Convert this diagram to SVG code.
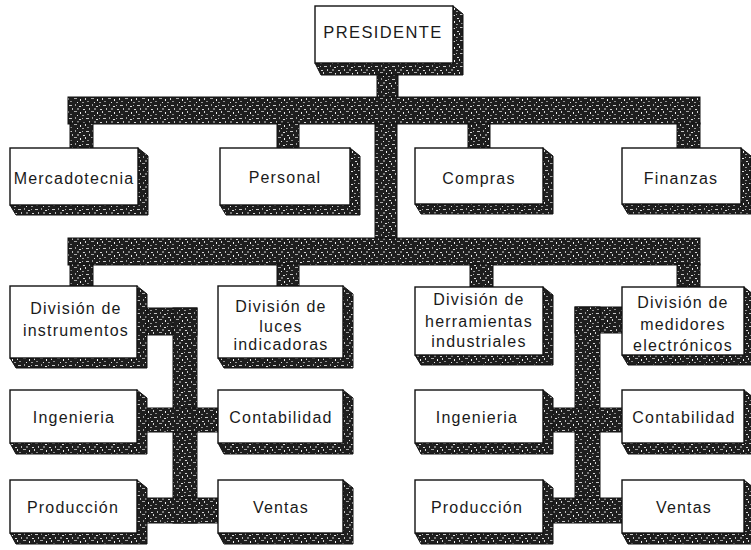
<svg xmlns="http://www.w3.org/2000/svg" width="751" height="550" viewBox="0 0 751 550">
  <defs>
    <!-- speckled dark fill used for bars and box extrusions -->
    <pattern id="grain" width="17" height="13" patternUnits="userSpaceOnUse">
      <rect width="17" height="13" fill="#1e1e1e"/>
      <rect x="1" y="1" width="3" height="1" fill="#c8c8c8"/>
      <rect x="7" y="0" width="1" height="2" fill="#9a9a9a"/>
      <rect x="11" y="2" width="2" height="1" fill="#e0e0e0"/>
      <rect x="14" y="1" width="1" height="1" fill="#b0b0b0"/>
      <rect x="4" y="4" width="1" height="2" fill="#bdbdbd"/>
      <rect x="9" y="4" width="2" height="2" fill="#7a7a7a"/>
      <rect x="15" y="5" width="2" height="1" fill="#d8d8d8"/>
      <rect x="0" y="7" width="1" height="2" fill="#d5d5d5"/>
      <rect x="6" y="7" width="3" height="1" fill="#a8a8a8"/>
      <rect x="12" y="8" width="1" height="2" fill="#f0f0f0"/>
      <rect x="2" y="10" width="2" height="1" fill="#8c8c8c"/>
      <rect x="9" y="11" width="1" height="1" fill="#e8e8e8"/>
      <rect x="14" y="11" width="2" height="1" fill="#9c9c9c"/>
    </pattern>
  </defs>
  <style>
    .bar { fill: url(#grain); stroke: #111; stroke-width: 1; }
    .ext { fill: url(#grain); stroke: #111; stroke-width: 1; }
    .face { fill: #fff; stroke: #111; stroke-width: 1.4; }
    .lbl { font-family: "Liberation Sans", Arial, sans-serif; font-size: 16px; letter-spacing: 1.2px; fill: #1a1a1a; text-anchor: middle; }
    .big { font-size: 16.5px; letter-spacing: 1.4px; }
  </style>

  <rect width="751" height="550" fill="#fff"/>

  <!-- thick connector bars -->
  <g id="connectors">
    <rect class="bar" x="377" y="60" width="21" height="38"/>
    <rect class="bar" x="68" y="97" width="632" height="27"/>
    <rect class="bar" x="70" y="123" width="23" height="27"/>
    <rect class="bar" x="277" y="123" width="22" height="27"/>
    <rect class="bar" x="468" y="123" width="22" height="27"/>
    <rect class="bar" x="677" y="123" width="23" height="27"/>
    <rect class="bar" x="375" y="123" width="22" height="116"/>
    <rect class="bar" x="68" y="238" width="632" height="27"/>
    <rect class="bar" x="70" y="264" width="23" height="24"/>
    <rect class="bar" x="277" y="264" width="22" height="24"/>
    <rect class="bar" x="470" y="264" width="23" height="25"/>
    <rect class="bar" x="677" y="264" width="23" height="25"/>
    <!-- left division links -->
    <rect class="bar" x="135" y="308" width="62" height="27"/>
    <rect class="bar" x="173" y="308" width="24" height="215"/>
    <rect class="bar" x="135" y="408" width="85" height="24"/>
    <rect class="bar" x="135" y="498" width="85" height="25"/>
    <!-- right division links -->
    <rect class="bar" x="575" y="307" width="49" height="26"/>
    <rect class="bar" x="575" y="307" width="25" height="215"/>
    <rect class="bar" x="541" y="408" width="83" height="24"/>
    <rect class="bar" x="541" y="498" width="83" height="25"/>
  </g>

  <g id="presidente">
    <path class="ext" d="M453,6 L463,14 L463,75 L321,75 L315,63 Z"/>
    <rect class="face" x="315" y="6" width="138" height="57"/>
    <text class="lbl big" x="383" y="38">PRESIDENTE</text>
  </g>

  <g id="mercadotecnia">
    <path class="ext" d="M138,148 L148,156 L148,215 L16,215 L10,205 Z"/>
    <rect class="face" x="10" y="148" width="128" height="57"/>
    <text class="lbl" x="74" y="184">Mercadotecnia</text>
  </g>

  <g id="personal">
    <path class="ext" d="M350,148 L360,156 L360,215 L226,215 L220,205 Z"/>
    <rect class="face" x="220" y="148" width="130" height="57"/>
    <text class="lbl" x="285" y="183">Personal</text>
  </g>

  <g id="compras">
    <path class="ext" d="M543,148 L553,156 L553,214 L421,214 L415,204 Z"/>
    <rect class="face" x="415" y="148" width="128" height="56"/>
    <text class="lbl" x="479" y="184">Compras</text>
  </g>

  <g id="finanzas">
    <path class="ext" d="M741,148 L751,156 L751,214 L628,214 L622,204 Z"/>
    <rect class="face" x="622" y="148" width="119" height="56"/>
    <text class="lbl" x="681" y="184">Finanzas</text>
  </g>

  <g id="div-instrumentos">
    <path class="ext" d="M137,286 L147,294 L147,368 L16,368 L10,358 Z"/>
    <rect class="face" x="10" y="286" width="127" height="72"/>
    <text class="lbl" x="76" y="314">División de</text>
    <text class="lbl" x="76" y="336">instrumentos</text>
  </g>

  <g id="div-luces">
    <path class="ext" d="M343,286 L353,294 L353,368 L224,368 L218,358 Z"/>
    <rect class="face" x="218" y="286" width="125" height="72"/>
    <text class="lbl" x="281" y="312">División de</text>
    <text class="lbl" x="281" y="332">luces</text>
    <text class="lbl" x="281" y="350">indicadoras</text>
  </g>

  <g id="div-herramientas">
    <path class="ext" d="M543,287 L553,295 L553,365 L421,365 L415,355 Z"/>
    <rect class="face" x="415" y="287" width="128" height="68"/>
    <text class="lbl" x="479" y="305">División de</text>
    <text class="lbl" x="479" y="327">herramientas</text>
    <text class="lbl" x="479" y="347">industriales</text>
  </g>

  <g id="div-medidores">
    <path class="ext" d="M744,287 L754,295 L754,365 L628,365 L622,355 Z"/>
    <rect class="face" x="622" y="287" width="122" height="68"/>
    <text class="lbl" x="683" y="308">División de</text>
    <text class="lbl" x="683" y="330">medidores</text>
    <text class="lbl" x="683" y="351">electrónicos</text>
  </g>

  <g id="ingenieria-1">
    <path class="ext" d="M137,390 L147,398 L147,454 L16,454 L10,443 Z"/>
    <rect class="face" x="10" y="390" width="127" height="53"/>
    <text class="lbl" x="74" y="423">Ingenieria</text>
  </g>

  <g id="contabilidad-1">
    <path class="ext" d="M343,390 L353,398 L353,454 L224,454 L218,443 Z"/>
    <rect class="face" x="218" y="390" width="125" height="53"/>
    <text class="lbl" x="281" y="423">Contabilidad</text>
  </g>

  <g id="produccion-1">
    <path class="ext" d="M137,480 L147,488 L147,544 L16,544 L10,533 Z"/>
    <rect class="face" x="10" y="480" width="127" height="53"/>
    <text class="lbl" x="73" y="513">Producción</text>
  </g>

  <g id="ventas-1">
    <path class="ext" d="M343,480 L353,488 L353,544 L224,544 L218,533 Z"/>
    <rect class="face" x="218" y="480" width="125" height="53"/>
    <text class="lbl" x="281" y="513">Ventas</text>
  </g>

  <g id="ingenieria-2">
    <path class="ext" d="M543,390 L553,398 L553,454 L421,454 L415,443 Z"/>
    <rect class="face" x="415" y="390" width="128" height="53"/>
    <text class="lbl" x="477" y="423">Ingenieria</text>
  </g>

  <g id="contabilidad-2">
    <path class="ext" d="M744,390 L754,398 L754,454 L628,454 L622,443 Z"/>
    <rect class="face" x="622" y="390" width="122" height="53"/>
    <text class="lbl" x="684" y="423">Contabilidad</text>
  </g>

  <g id="produccion-2">
    <path class="ext" d="M543,480 L553,488 L553,544 L421,544 L415,533 Z"/>
    <rect class="face" x="415" y="480" width="128" height="53"/>
    <text class="lbl" x="477" y="513">Producción</text>
  </g>

  <g id="ventas-2">
    <path class="ext" d="M744,480 L754,488 L754,544 L628,544 L622,533 Z"/>
    <rect class="face" x="622" y="480" width="122" height="53"/>
    <text class="lbl" x="684" y="513">Ventas</text>
  </g>
</svg>
